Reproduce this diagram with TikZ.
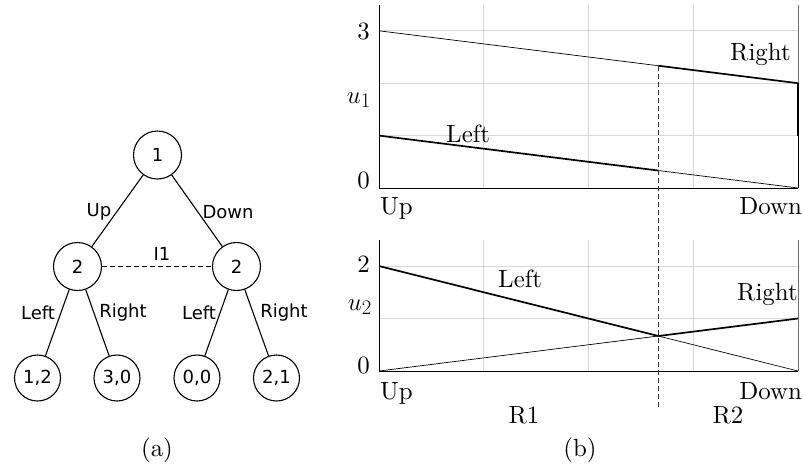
\documentclass[tikz,border=0pt]{standalone}
\usepackage{fontspec}
\newfontfamily\treefont{DejaVu Sans}
\newfontfamily\plotfont{lmroman10-regular}[Extension=.otf]
\begin{document}
\begin{tikzpicture}[x=1pt,y=-1pt,
  tnode/.style={circle, draw, line width=1.1pt, minimum size=48pt, inner sep=0pt, font=\treefont\fontsize{18}{22}\selectfont},
  leafnode/.style={tnode, minimum size=46pt},
  tlabel/.style={inner sep=0pt, font=\treefont\fontsize{18}{22}\selectfont},
  tedge/.style={line width=1.1pt},
  gridl/.style={black!15, line width=0.8pt},
  borderl/.style={black!55, line width=0.8pt},
  thinl/.style={black, line width=0.7pt},
  thickl/.style={black, line width=1.7pt},
  ptext/.style={inner sep=0pt, font=\plotfont\fontsize{24.88}{30}\selectfont},
  mtext/.style={inner sep=0pt, font=\fontsize{28}{34}\selectfont},
  regl/.style={black!80, line width=0.8pt, dash pattern=on 5pt off 3pt}]
\useasboundingbox (0,0) rectangle (803,467);

% ---------- (a) tree ----------
\node[tnode] (r) at (157.5,155) {1};
\node[tnode] (a) at (77.5,266.5) {2};
\node[tnode] (b) at (236.5,266.5) {2};
\node[leafnode] (l1) at (37.5,378) {1,2};
\node[leafnode] (l2) at (117,378) {3,0};
\node[leafnode] (l3) at (197,378) {0,0};
\node[leafnode] (l4) at (276.5,378) {2,1};
\draw[tedge] (r) -- (a);
\draw[tedge] (r) -- (b);
\draw[tedge] (a) -- (l1);
\draw[tedge] (a) -- (l2);
\draw[tedge] (b) -- (l3);
\draw[tedge] (b) -- (l4);
\draw[tedge, dashed, dash pattern=on 5pt off 3pt] (a) -- (b);
\node[tlabel] (tup) at (99,212) {Up};
\node[tlabel] (tdown) at (228,212) {Down};
\node[tlabel] (ti1) at (162,254) {I1};
\node[tlabel] (tl1) at (38,313) {Left};
\node[tlabel] (tr1) at (123,313) {Right};
\node[tlabel] (tl2) at (199,313) {Left};
\node[tlabel] (tr2) at (284,313) {Right};
\node[ptext, anchor=base] (capa) at (157,456) {(a)};

% ---------- (b) top plot ----------
\begin{scope}[shift={(379pt,-188pt)}, x=419pt, y=52.4pt]
  \foreach \v in {1,2,3} \draw[gridl] (0,\v) -- (1,\v);
  \foreach \u in {0.25,0.5,0.75} \draw[gridl] (\u,0) -- (\u,3.5);
  \draw[borderl] (1,0) -- (1,3.5);
  \draw[thinl] (0,3.5) -- (0,0) -- (1,0);
  \draw[thinl] (0,3) -- (2/3,7/3);
  \draw[thickl] (2/3,7/3) -- (1,2);
  \draw[thickl] (1,2) -- (1,1);
  \draw[thinl] (1,1) -- (1,0);
  \draw[thickl] (0,1) -- (2/3,1/3);
  \draw[thinl] (2/3,1/3) -- (1,0);
\end{scope}
\node[ptext, anchor=base east] (t3) at (370,39) {3};
\node[mtext, anchor=base east] (tu1) at (371,103) {$u_1$};
\node[ptext, anchor=base east] (t0) at (370,188) {0};
\node[ptext, anchor=base west] (tleft) at (446,142) {Left};
\node[ptext, anchor=base west] (tright) at (730,60) {Right};
\node[ptext, anchor=base west] (tupx) at (380,214) {Up};
\node[ptext, anchor=base east] (tdownx) at (802,214) {Down};

% ---------- (b) bottom plot ----------
\begin{scope}[shift={(379pt,-371pt)}, x=419pt, y=52.5pt]
  \foreach \v in {1,2} \draw[gridl] (0,\v) -- (1,\v);
  \foreach \u in {0.25,0.5,0.75} \draw[gridl] (\u,0) -- (\u,2.5);
  \draw[borderl] (1,0) -- (1,2.5);
  \draw[thinl] (0,2.5) -- (0,0) -- (1,0);
  \draw[thickl] (0,2) -- (2/3,2/3);
  \draw[thinl] (2/3,2/3) -- (1,0);
  \draw[thinl] (0,0) -- (2/3,2/3);
  \draw[thickl] (2/3,2/3) -- (1,1);
\end{scope}
\node[ptext, anchor=base east] (b2) at (370,272) {2};
\node[mtext, anchor=base east] (bu2) at (372,310) {$u_2$};
\node[ptext, anchor=base east] (b0) at (370,373) {0};
\node[ptext, anchor=base west] (bleft) at (498,287) {Left};
\node[ptext, anchor=base west] (bright) at (737,300) {Right};
\node[ptext, anchor=base west] (bupx) at (380,399) {Up};
\node[ptext, anchor=base east] (bdownx) at (802,399) {Down};
\node[ptext, anchor=base] (r1) at (524,423) {R1};
\node[ptext, anchor=base] (r2) at (728,423) {R2};
\node[ptext, anchor=base] (capb) at (580,456) {(b)};

% region divider
\coordinate (dtop) at (658.3,66);
\coordinate (dbot) at (658.3,407);
\draw[regl] (dtop) -- (dbot);
\end{tikzpicture}
\end{document}
